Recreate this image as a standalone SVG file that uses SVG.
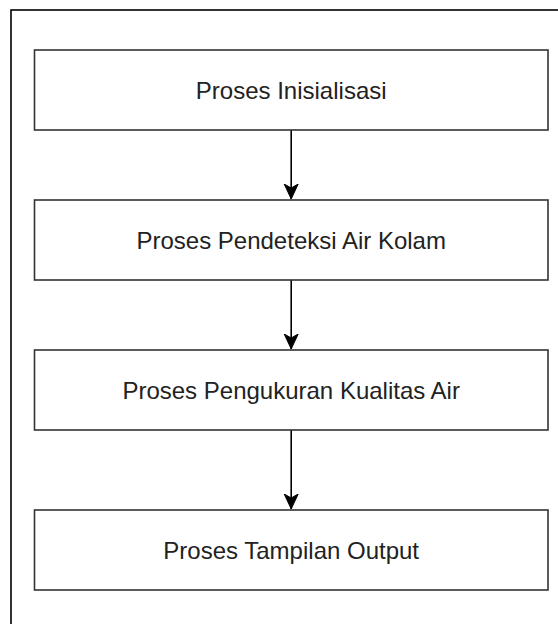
<svg xmlns="http://www.w3.org/2000/svg" width="558" height="624" viewBox="0 0 558 624">
  <style>
    .frame { fill: none; stroke: #000; stroke-width: 1.6; }
    .box { fill: #fff; stroke: #333; stroke-width: 1.6; }
    .label { font-family: "Liberation Sans", Arial, Helvetica, sans-serif; font-size: 24px; fill: #222; text-anchor: middle; }
    .edge { fill: none; stroke: #000; stroke-width: 1.6; }
  </style>
  <defs>
    <marker id="arrow" markerUnits="userSpaceOnUse" viewBox="0 0 16 16" refX="15" refY="8" markerWidth="16" markerHeight="16" orient="auto">
      <path d="M15,8 L0,1 L4,8 L0,15 Z" fill="#000" stroke="#000" stroke-width="1"/>
    </marker>
  </defs>

  <rect width="558" height="624" fill="#fff"/>

  <!-- outer frame, running past the right and bottom edges -->
  <rect class="frame" x="11" y="10" width="570" height="640"/>

  <g id="connectors">
    <line class="edge" x1="291.2" y1="130" x2="291.2" y2="199" marker-end="url(#arrow)"/>
    <line class="edge" x1="291.2" y1="280" x2="291.2" y2="349" marker-end="url(#arrow)"/>
    <line class="edge" x1="291.2" y1="430" x2="291.2" y2="509" marker-end="url(#arrow)"/>
  </g>

  <g id="inisialisasi">
    <rect class="box" x="34.5" y="50" width="513.5" height="80"/>
    <text class="label" x="291.2" y="99">Proses Inisialisasi</text>
  </g>

  <g id="pendeteksi">
    <rect class="box" x="34.5" y="200" width="513.5" height="80"/>
    <text class="label" x="291.2" y="249">Proses Pendeteksi Air Kolam</text>
  </g>

  <g id="pengukuran">
    <rect class="box" x="34.5" y="350" width="513.5" height="80"/>
    <text class="label" x="291.2" y="399">Proses Pengukuran Kualitas Air</text>
  </g>

  <g id="tampilan">
    <rect class="box" x="34.5" y="510" width="513.5" height="80"/>
    <text class="label" x="291.2" y="559">Proses Tampilan Output</text>
  </g>
</svg>
